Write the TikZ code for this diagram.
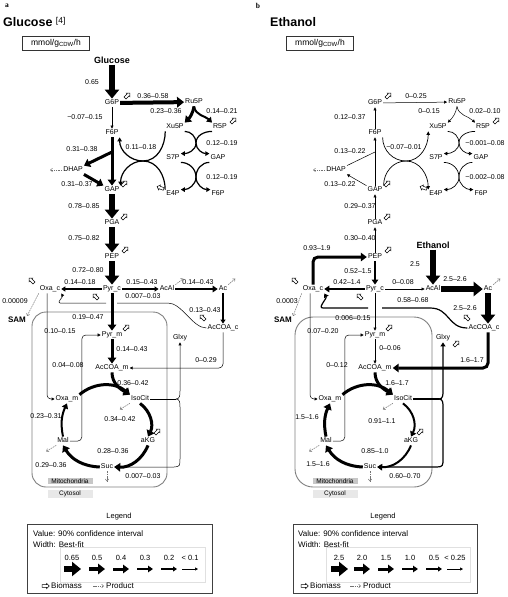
\documentclass[tikz,border=0pt]{standalone}
\usepackage{fontspec}
\setmainfont{Liberation Sans}
\newfontfamily\letterfont{Liberation Serif}
\usetikzlibrary{arrows.meta,shapes}

\tikzset{
  met/.style={font=\fontsize{7}{8}\selectfont, inner sep=1pt, text height=5pt, text depth=1.4pt},
  val/.style={font=\fontsize{7}{8}\selectfont, inner sep=0.5pt, text height=5pt, text depth=0pt},
  inp/.style={font=\bfseries\fontsize{9}{10}\selectfont, inner sep=1pt},
  ttl/.style={font=\bfseries\fontsize{12.5}{14}\selectfont, anchor=west, inner sep=0pt},
  letter/.style={font=\letterfont\bfseries\fontsize{7.5}{8}\selectfont, inner sep=0pt},
  unit/.style={draw=black!80, line width=0.8pt, minimum width=67pt, minimum height=14pt, inner sep=1pt, font=\fontsize{8.5}{9}\selectfont},
  w0/.style={line width=0.5pt, -{Triangle[length=3pt,width=3pt]}},
  w1/.style={line width=1.2pt, -{Triangle[length=4pt,width=5pt]}},
  w2/.style={line width=2pt, -{Triangle[length=5pt,width=6.5pt]}},
  w3/.style={line width=3pt, -{Triangle[length=6pt,width=8.5pt]}},
  w4/.style={line width=4pt, -{Triangle[length=7pt,width=10.5pt]}},
  w5/.style={line width=5.5pt, -{Triangle[length=9pt,width=14pt]}},
  l0/.style={line width=0.5pt},
  l1/.style={line width=1.2pt},
  tkarc/.style={line width=1.2pt, -{Triangle[length=4pt,width=4.5pt]}},
  tkthin/.style={line width=0.7pt, -{Triangle[length=3.5pt,width=3.5pt]}},
  prod/.style={black!55, line width=0.5pt, dash pattern=on 1.5pt off 0.8pt, -{Straight Barb[length=2pt,width=3.5pt]}},
  bio/.style={single arrow, draw, fill=white, line width=0.5pt, minimum height=7pt, single arrow head extend=1.3pt, inner sep=1.1pt},
  mito/.style={draw=black!50, line width=0.9pt, rounded corners=14pt},
  comp/.style={font=\fontsize{6.5}{7}\selectfont, inner sep=0.6pt, minimum width=45pt},
  legbox/.style={draw=black!75, line width=0.8pt},
  legtxt/.style={font=\fontsize{8}{9}\selectfont, inner sep=0pt, anchor=west},
  legval/.style={font=\fontsize{7.5}{8}\selectfont, inner sep=0pt},
}

\begin{document}
\begin{tikzpicture}[x=1pt,y=-1pt]
\path[fill=white, use as bounding box] (0,0) rectangle (507,597);

%%% panel a: glucose
\node[letter] (aLet) at (7,6) {a};
\node[ttl] (aTtl) at (3,22) {Glucose \raisebox{2.5pt}{\mdseries\fontsize{8.5}{9}\selectfont[4]}};
\node[unit] (aUnit) at (56,43) {mmol/g\textsubscript{CDW}/h};

% mitochondria
\draw[mito] (32,312) rectangle (167,487);
\node[comp, fill=black!22] (aMito) at (70,481) {Mitochondria};
\node[comp, fill=black!9] (aCyto) at (70,494) {Cytosol};

% metabolites
\node[inp] (aGlc) at (112,60) {Glucose};
\node[met] (aG6P) at (112,103) {G6P};
\node[met] (aRu5P) at (194,102) {Ru5P};
\node[met] (aXu5P) at (175,127) {Xu5P};
\node[met] (aR5P) at (220,127) {R5P};
\node[met] (aF6P) at (112,133) {F6P};
\node[met] (aS7P) at (173,158) {S7P};
\node[met] (aGAPr) at (218,158) {GAP};
\node[met] (aE4P) at (173,194) {E4P};
\node[met] (aF6Pr) at (218,194) {F6P};
\node[met] (aDHAP) at (73,170) {DHAP};
\node[met] (aGAP) at (112,190) {GAP};
\node[met] (aPGA) at (112,223) {PGA};
\node[met] (aPEP) at (112,257) {PEP};
\node[met] (aPyrc) at (112,289) {Pyr\_c};
\node[met] (aOxac) at (50,289) {Oxa\_c};
\node[met] (aAcAl) at (167,289) {AcAl};
\node[met] (aAc) at (223,289) {Ac};
\node[met] (aAcCOAc) at (223,328) {AcCOA\_c};
\node[met] (aGlxy) at (180,338) {Glxy};
\node[met] (aPyrm) at (112,335) {Pyr\_m};
\node[met] (aAcCOAm) at (112,368) {AcCOA\_m};
\node[met] (aOxam) at (67,399) {Oxa\_m};
\node[met] (aIsoCit) at (140,399) {IsoCit};
\node[met] (aaKG) at (148,441) {aKG};
\node[met] (aSuc) at (107,467) {Suc};
\node[met] (aMal) at (63,441) {Mal};
\node[inp, font=\bfseries\fontsize{8}{9}\selectfont] (aSAM) at (17,320) {SAM};

\coordinate (aC0) at (143,161);
\coordinate (aC1) at (196,143);
\coordinate (aC2) at (196,177);
\coordinate (aFB) at (112,152);
\coordinate (aK1) at (168,303);
\coordinate (aK3) at (117,303);
\coordinate (aK4) at (106,303);
\coordinate (aK2) at (60,303);
\coordinate (aBr) at (176,399);

% flux values
\node[val] (aVglc) at (92,82) {0.65};
\node[val] (aVppp) at (153,96) {0.36–0.58};
\node[val] (aVxu) at (166,111) {0.23–0.36};
\node[val] (aVr5) at (222,111) {0.14–0.21};
\node[val] (aVpgi) at (85,117) {−0.07–0.15};
\node[val] (aVdh1) at (82,149) {0.31–0.38};
\node[val] (aVtk1) at (141,147) {0.11–0.18};
\node[val] (aVtk2) at (222,143) {0.12–0.19};
\node[val] (aVta) at (222,177) {0.12–0.19};
\node[val] (aVdh2) at (77,184) {0.31–0.37};
\node[val] (aVgap) at (84,206) {0.78–0.85};
\node[val] (aVpga) at (84,238) {0.75–0.82};
\node[val] (aVpep) at (88,270) {0.72–0.80};
\node[val] (aVpc) at (80,282) {0.14–0.18};
\node[val] (aVpdc) at (142,282) {0.15–0.43};
\node[val] (aVald) at (198,282) {0.14–0.43};
\node[val] (aVgly) at (143,296) {0.007–0.03};
\node[val] (aVsam) at (15,301) {0.00009};
\node[val] (aVacs) at (205,310) {0.13–0.43};
\node[val] (aVpyr) at (88,317) {0.19–0.47};
\node[val] (aVoxa) at (60,331) {0.10–0.15};
\node[val] (aVpdh) at (132,349) {0.14–0.43};
\node[val] (aVcar) at (206,360) {0–0.29};
\node[val] (aVme) at (68,365) {0.04–0.08};
\node[val] (aVcs) at (133,383) {0.36–0.42};
\node[val] (aVmdh) at (46,416) {0.23–0.31};
\node[val] (aVidh) at (120,419) {0.34–0.42};
\node[val] (aVkgd) at (113,451) {0.28–0.36};
\node[val] (aVsdh) at (51,465) {0.29–0.36};
\node[val] (aVicl) at (143,476) {0.007–0.03};

% biomass drains
\node[bio, rotate=45] (aG6Pb) at (127,96) {};
\node[bio, rotate=45] (aR5Pb) at (233,121) {};
\node[bio, rotate=45] (aGAPb) at (124,184) {};
\node[bio, rotate=160] (aE4Pb) at (161,188) {};
\node[bio, rotate=45] (aPGAb) at (124,217) {};
\node[bio, rotate=45] (aPEPb) at (125,250) {};
\node[bio, rotate=135] (aOxacb) at (32,281) {};
\node[bio, rotate=135] (aPyrcb) at (96,297) {};
\node[bio, rotate=45] (aPyrmb) at (126,328) {};
\node[bio, rotate=135] (aAcCOAcb) at (203,318) {};
\node[bio, rotate=45] (aaKGb) at (157,432) {};

% upper part
\draw[w5] (aGlc) -- (aG6P);
\draw[w4] (aG6P) -- (aRu5P);
\draw[w0] (aG6P) -- (aF6P);
\draw[w3] (aRu5P.south) to[out=-100,in=45] (aXu5P.north east);
\draw[w2] (aRu5P.south) to[out=-80,in=135] (aR5P.north west);
\draw[tkarc] (aXu5P.south west) to[out=-90,in=0] (aC0) to[out=180,in=-90] (aF6P.south east);
\draw[tkarc] (aE4P.north west) to[out=90,in=0] (aC0) to[out=180,in=90] (aGAP.north east);
\draw[tkarc] (aXu5P.south east) to[out=0,in=90] (aC1) to[out=-90,in=0] (aS7P.north east);
\draw[tkarc] (aR5P.south west) to[out=180,in=90] (aC1) to[out=-90,in=180] (aGAPr.north west);
\draw[tkarc] (aS7P.south east) to[out=0,in=90] (aC2) to[out=-90,in=0] (aE4P.north east);
\draw[tkarc] (aGAPr.south west) to[out=180,in=90] (aC2) to[out=-90,in=180] (aF6Pr.north west);
\draw[w3] (aF6P) -- (aGAP);
\draw[w3] (aFB) -- (aDHAP.north east);
\draw[w3] (aDHAP.south east) -- (aGAP.north west);
\draw[prod] (aDHAP.west) -- ++(-12,0);
\draw[w5] (aGAP) -- (aPGA);
\draw[w5] (aPGA) -- (aPEP);
\draw[w5] (aPEP) -- (aPyrc);

% cytosol
\draw[w1] (aPyrc) -- (aOxac);
\draw[w1] (aPyrc) -- (aAcAl);
\draw[w2] (aAcAl) -- (aAc);
\draw[w1] (aAc) -- (aAcCOAc);
\draw[prod] (aAcAl.north east) -- ++(8,-6);
\draw[prod] (aAc.north east) -- ++(7,-6);
\draw[prod] (aOxac.south west) -- (aSAM.north east);
\draw[l0] (aAcCOAc.west) .. controls +(-14,0) and +(14,0) .. (aK1) -- (aK3);
\draw[w0] (aK4) -- (aK2) to[out=180,in=-60] (aOxac.south east);
\draw[w3] (aPyrc) -- (aPyrm);
\draw[w3] (aPyrm) -- (aAcCOAm);
\draw[w0, rounded corners=4pt] (aAcCOAc.south) |- (aAcCOAm.east);
\draw[w0, rounded corners=4pt] ([xshift=-3pt]aOxac.south) |- (aOxam.west);
\draw[w0, rounded corners=4pt] (aMal.east) -- ++(12,0) |- (aPyrm.west);

% TCA cycle
\draw[w3] (aOxam.north east) to[bend left=40] (aIsoCit.north west);
\draw[w3] (aAcCOAm.south) to[out=-90,in=150] (aIsoCit.north west);
\draw[w3] (aIsoCit.south) to[bend left=40] (aaKG.north);
\draw[w3] (aaKG.south) to[bend left=35] (aSuc.east);
\draw[w3] (aSuc.west) to[bend left=28] (aMal.south);
\draw[w2] (aMal.north) to[bend left=18] (aOxam.south);
\draw[prod] (aIsoCit.south west) -- ++(-10,6);
\draw[prod] (aMal.south west) -- ++(-10,6);
\draw[prod] (aSuc.south) -- ++(0,10);
\draw[l0] (aIsoCit.east) -- (aBr);
\draw[w0] (aBr) .. controls +(4,0) and +(0,4) .. ++(4,-8) -- (aGlxy.south);
\draw[w0] (aBr) .. controls +(4,0) and +(0,-4) .. ++(4,8) -- ++(0,52) .. controls +(0,6) and +(6,0) .. ++(-6,8) -- (aSuc.east);

% legend
\node[legval] (aLegT) at (119,517) {Legend};
\draw[legbox] (27,524) rectangle (212,593);
\draw[black!12, line width=0.5pt] (60,547) rectangle (205,582);
\node[legtxt] (aLegV) at (33,534) {Value: 90\% confidence interval};
\node[legtxt] (aLegW) at (33,545) {Width: Best-fit};
\node[legval] (aLg1) at (72,558) {0.65};
\node[legval] (aLg2) at (97,558) {0.5};
\node[legval] (aLg3) at (121,558) {0.4};
\node[legval] (aLg4) at (145,558) {0.3};
\node[legval] (aLg5) at (169,558) {0.2};
\node[legval] (aLg6) at (190,558) {< 0.1};
\draw[w5] ([xshift=-8pt,yshift=-11pt]aLg1.center) -- ([xshift=9pt,yshift=-11pt]aLg1.center);
\draw[w4] ([xshift=-8pt,yshift=-11pt]aLg2.center) -- ([xshift=8pt,yshift=-11pt]aLg2.center);
\draw[w3] ([xshift=-8pt,yshift=-11pt]aLg3.center) -- ([xshift=8pt,yshift=-11pt]aLg3.center);
\draw[w2] ([xshift=-8pt,yshift=-11pt]aLg4.center) -- ([xshift=8pt,yshift=-11pt]aLg4.center);
\draw[w1] ([xshift=-8pt,yshift=-11pt]aLg5.center) -- ([xshift=8pt,yshift=-11pt]aLg5.center);
\draw[w0] ([xshift=-8pt,yshift=-11pt]aLg6.center) -- ([xshift=8pt,yshift=-11pt]aLg6.center);
\node[bio] (aLgB) at (45,586) {};
\node[legtxt] (aLgBt) at (51,586) {Biomass};
\node[legtxt] (aLgPt) at (106,586) {Product};
\draw[prod] ([xshift=-13pt]aLgPt.west) -- ([xshift=-2pt]aLgPt.west);

%%% panel b: ethanol
\node[letter] (bLet) at (258,6) {b};
\node[ttl] (bTtl) at (270,22) {Ethanol};
\node[unit] (bUnit) at (320,43) {mmol/g\textsubscript{CDW}/h};

% mitochondria
\draw[mito, rounded corners=18pt] (295,317) rectangle (432,487);
\node[comp, fill=black!22] (bMito) at (335,481) {Mitochondria};
\node[comp, fill=black!9] (bCyto) at (335,494) {Cytosol};

% metabolites
\node[met] (bG6P) at (375,103) {G6P};
\node[met] (bRu5P) at (457,102) {Ru5P};
\node[met] (bXu5P) at (438,127) {Xu5P};
\node[met] (bR5P) at (483,127) {R5P};
\node[met] (bF6P) at (375,133) {F6P};
\node[met] (bS7P) at (436,158) {S7P};
\node[met] (bGAPr) at (481,158) {GAP};
\node[met] (bE4P) at (436,194) {E4P};
\node[met] (bF6Pr) at (481,194) {F6P};
\node[met] (bDHAP) at (336,170) {DHAP};
\node[met] (bGAP) at (375,190) {GAP};
\node[met] (bPGA) at (375,223) {PGA};
\node[met] (bPEP) at (375,257) {PEP};
\node[met] (bPyrc) at (375,289) {Pyr\_c};
\node[met] (bOxac) at (313,289) {Oxa\_c};
\node[met] (bAcAl) at (433,289) {AcAl};
\node[met] (bAc) at (488,289) {Ac};
\node[met] (bAcCOAc) at (484,328) {AcCOA\_c};
\node[met] (bGlxy) at (443,338) {Glxy};
\node[met] (bPyrm) at (375,335) {Pyr\_m};
\node[met] (bAcCOAm) at (375,368) {AcCOA\_m};
\node[met] (bOxam) at (330,399) {Oxa\_m};
\node[met] (bIsoCit) at (403,399) {IsoCit};
\node[met] (baKG) at (411,441) {aKG};
\node[met] (bSuc) at (370,467) {Suc};
\node[met] (bMal) at (326,441) {Mal};
\node[inp, font=\bfseries\fontsize{8}{9}\selectfont] (bSAM) at (283,320) {SAM};
\node[inp] (bEth) at (433,245) {Ethanol};

\coordinate (bC0) at (406,161);
\coordinate (bC1) at (459,143);
\coordinate (bC2) at (459,177);
\coordinate (bFB) at (375,152);
\coordinate (bK1) at (430,308);
\coordinate (bK3) at (382,308);
\coordinate (bK4) at (368,308);
\coordinate (bK2) at (323,308);
\coordinate (bBr) at (439,399);

% flux values
\node[val] (bVppp) at (416,96) {0–0.25};
\node[val] (bVxu) at (429,111) {0–0.15};
\node[val] (bVr5) at (485,111) {0.02–0.10};
\node[val] (bVpgi) at (350,117) {0.12–0.37};
\node[val] (bVdh1) at (350,151) {0.13–0.22};
\node[val] (bVtk1) at (404,147) {−0.07–0.01};
\node[val] (bVtk2) at (485,143) {−0.001–0.08};
\node[val] (bVta) at (485,177) {−0.002–0.08};
\node[val] (bVdh2) at (340,184) {0.13–0.22};
\node[val] (bVgap) at (360,206) {0.29–0.37};
\node[val] (bVpga) at (360,238) {0.30–0.40};
\node[val] (bVpck) at (317,248) {0.93–1.9};
\node[val] (bVeth) at (415,264) {2.5};
\node[val] (bVpep) at (358,271) {0.52–1.5};
\node[val] (bVpc) at (347,282) {0.42–1.4};
\node[val] (bVpdc) at (403,282) {0–0.08};
\node[val] (bVald) at (455,279) {2.5–2.6};
\node[val] (bVgly) at (413,300) {0.58–0.68};
\node[val] (bVsam) at (287,301) {0.0003};
\node[val] (bVacs) at (465,308) {2.5–2.6};
\node[val] (bVpyr) at (353,318) {0.006–0.15};
\node[val] (bVoxa) at (323,331) {0.07–0.20};
\node[val] (bVpdh) at (390,348) {0–0.06};
\node[val] (bVcar) at (472,360) {1.6–1.7};
\node[val] (bVme) at (337,365) {0–0.12};
\node[val] (bVcs) at (397,383) {1.6–1.7};
\node[val] (bVmdh) at (307,417) {1.5–1.6};
\node[val] (bVidh) at (382,421) {0.91–1.1};
\node[val] (bVkgd) at (375,451) {0.85–1.0};
\node[val] (bVsdh) at (318,464) {1.5–1.6};
\node[val] (bVicl) at (405,476) {0.60–0.70};

% biomass drains
\node[bio, rotate=45] (bG6Pb) at (388,96) {};
\node[bio, rotate=45] (bR5Pb) at (496,121) {};
\node[bio, rotate=45] (bGAPb) at (387,184) {};
\node[bio, rotate=160] (bE4Pb) at (424,188) {};
\node[bio, rotate=45] (bPGAb) at (387,217) {};
\node[bio, rotate=45] (bPEPb) at (388,250) {};
\node[bio, rotate=135] (bOxacb) at (295,281) {};
\node[bio, rotate=135] (bPyrcb) at (360,297) {};
\node[bio, rotate=45] (bPyrmb) at (389,328) {};
\node[bio, rotate=135] (bAcCOAcb) at (467,318) {};
\node[bio, rotate=45] (bGlxyb) at (456,344) {};
\node[bio, rotate=45] (baKGb) at (420,432) {};

% upper part
\draw[w0] (bG6P) -- (bRu5P);
\draw[w0] (bF6P) -- (bG6P);
\draw[w0] (bRu5P.south) to[out=-100,in=45] (bXu5P.north east);
\draw[w0] (bRu5P.south) to[out=-80,in=135] (bR5P.north west);
\draw[tkthin] (bF6P.south east) to[out=-90,in=180] (bC0) to[out=0,in=-90] (bXu5P.south west);
\draw[tkthin] (bGAP.north east) to[out=90,in=180] (bC0) to[out=0,in=90] (bE4P.north west);
\draw[tkthin] (bXu5P.south east) to[out=0,in=90] (bC1) to[out=-90,in=0] (bS7P.north east);
\draw[tkthin] (bR5P.south west) to[out=180,in=90] (bC1) to[out=-90,in=180] (bGAPr.north west);
\draw[tkthin] (bS7P.south east) to[out=0,in=90] (bC2) to[out=-90,in=0] (bE4P.north east);
\draw[tkthin] (bGAPr.south west) to[out=180,in=90] (bC2) to[out=-90,in=180] (bF6Pr.north west);
\draw[w0] (bGAP) -- (bF6P);
\draw[l0] (bDHAP.north east) -- (bFB);
\draw[w0] (bGAP.north west) -- (bDHAP.south east);
\draw[prod] (bDHAP.west) -- ++(-12,0);
\draw[w0] (bPGA) -- (bGAP);
\draw[w0] (bPEP) -- (bPGA);

% cytosol
\draw[w3, rounded corners=5pt] (bOxac.north) |- (bPEP.west);
\draw[w2] (bPEP) -- (bPyrc);
\draw[w2] (bPyrc) -- (bOxac);
\draw[w0] (bPyrc) -- (bAcAl);
\draw[w5] (bEth) -- (bAcAl);
\draw[w5] (bAcAl) -- (bAc);
\draw[w5] (bAc.south) -- (bAc.south |- bAcCOAc.north);
\draw[prod] (bAc.north east) -- ++(7,-6);
\draw[prod] (bOxac.south west) -- (bSAM.north east);
\draw[l1] (bAcCOAc.west) .. controls +(-20,0) and +(20,0) .. (bK1) -- (bK3);
\draw[w1] (bK4) -- (bK2) to[out=180,in=-60] (bOxac.south east);
\draw[w0] (bPyrc) -- (bPyrm);
\draw[w0] (bPyrm) -- (bAcCOAm);
\draw[w3, rounded corners=5pt] (bAc.south |- bAcCOAc.south) |- (bAcCOAm.east);
\draw[w0, rounded corners=4pt] ([xshift=-3pt]bOxac.south) |- (bOxam.west);
\draw[w0, rounded corners=4pt] (bMal.east) -- ++(12,0) |- (bPyrm.west);

% TCA cycle
\draw[w3] (bOxam.north east) to[bend left=40] (bIsoCit.north west);
\draw[w3] (bAcCOAm.south) to[out=-90,in=150] (bIsoCit.north west);
\draw[w2] (bIsoCit.south) to[bend left=40] (baKG.north);
\draw[w2] (baKG.south) to[bend left=35] (bSuc.east);
\draw[w3] (bSuc.west) to[bend left=28] (bMal.south);
\draw[w3] (bMal.north) to[bend left=18] (bOxam.south);
\draw[prod] (bIsoCit.south west) -- ++(-10,6);
\draw[prod] (bMal.south west) -- ++(-10,6);
\draw[prod] (bSuc.south) -- ++(0,10);
\draw[l1] (bIsoCit.east) -- (bBr);
\draw[w1] (bBr) .. controls +(4,0) and +(0,4) .. ++(4,-8) -- (bGlxy.south);
\draw[w1] (bBr) .. controls +(4,0) and +(0,-4) .. ++(4,8) -- ++(0,52) .. controls +(0,6) and +(6,0) .. ++(-6,8) -- (bSuc.east);

% legend
\node[legval] (bLegT) at (383,517) {Legend};
\draw[legbox] (293,524) rectangle (477,593);
\draw[black!12, line width=0.5pt] (326,547) rectangle (470,582);
\node[legtxt] (bLegV) at (298,534) {Value: 90\% confidence interval};
\node[legtxt] (bLegW) at (298,545) {Width: Best-fit};
\node[legval] (bLg1) at (339,558) {2.5};
\node[legval] (bLg2) at (362,558) {2.0};
\node[legval] (bLg3) at (386,558) {1.5};
\node[legval] (bLg4) at (410,558) {1.0};
\node[legval] (bLg5) at (434,558) {0.5};
\node[legval] (bLg6) at (455,558) {< 0.25};
\draw[w5] ([xshift=-8pt,yshift=-11pt]bLg1.center) -- ([xshift=9pt,yshift=-11pt]bLg1.center);
\draw[w4] ([xshift=-8pt,yshift=-11pt]bLg2.center) -- ([xshift=8pt,yshift=-11pt]bLg2.center);
\draw[w3] ([xshift=-8pt,yshift=-11pt]bLg3.center) -- ([xshift=8pt,yshift=-11pt]bLg3.center);
\draw[w2] ([xshift=-8pt,yshift=-11pt]bLg4.center) -- ([xshift=8pt,yshift=-11pt]bLg4.center);
\draw[w1] ([xshift=-8pt,yshift=-11pt]bLg5.center) -- ([xshift=8pt,yshift=-11pt]bLg5.center);
\draw[w0] ([xshift=-8pt,yshift=-11pt]bLg6.center) -- ([xshift=8pt,yshift=-11pt]bLg6.center);
\node[bio] (bLgB) at (304,586) {};
\node[legtxt] (bLgBt) at (310,586) {Biomass};
\node[legtxt] (bLgPt) at (363,586) {Product};
\draw[prod] ([xshift=-13pt]bLgPt.west) -- ([xshift=-2pt]bLgPt.west);
\end{tikzpicture}
\end{document}
